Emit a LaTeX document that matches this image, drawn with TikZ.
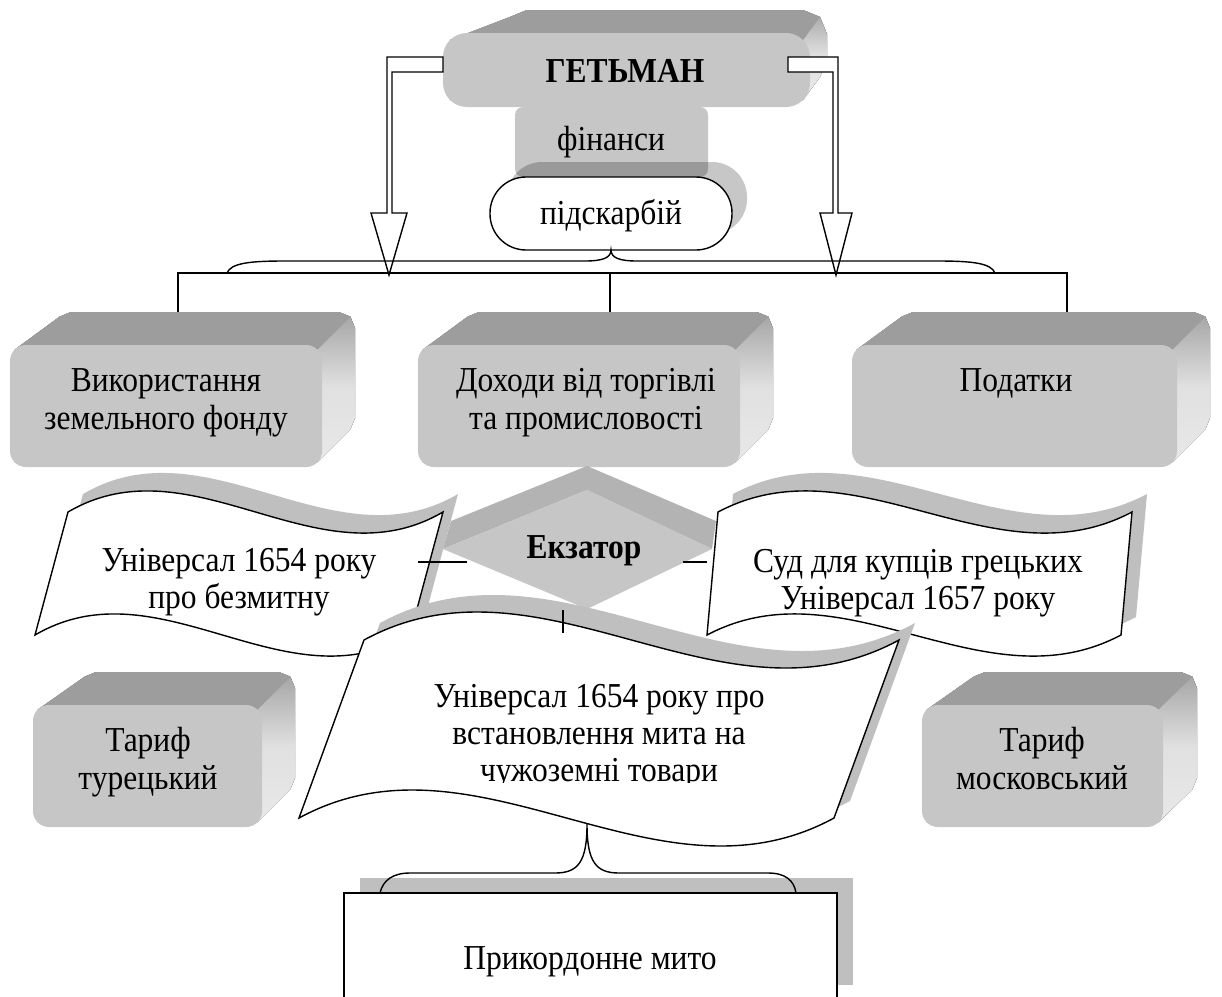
\documentclass[tikz,border=0pt]{standalone}
\usepackage{fontspec}
\setmainfont{Liberation Serif}[FakeStretch=0.9]
\definecolor{frontgray}{HTML}{C6C6C6}
\definecolor{topgray}{HTML}{9D9D9D}
\definecolor{shadowgray}{HTML}{BFBFBF}
\definecolor{bevelgray}{HTML}{B3B3B3}

\tikzset{
  lbl/.style={anchor=base, inner sep=0pt, font=\fontsize{35}{38}\selectfont},
  blbl/.style={lbl, font=\fontsize{35}{38}\selectfont\bfseries},
  outline/.style={draw=black, line width=1.4pt, line join=miter},
  wire/.style={draw=black, line width=1.4pt},
  plate/.style={rectangle, outer sep=0pt, inner sep=0pt},
}

% extruded rounded block: x1 y1 x2 y2 (front face), left depth, right depth, height of extrusion, corner radius
\newcommand{\slab}[8]{%
  \pgfmathsetmacro{\sa}{0.29*#8}%
  \fill[top color=black!36, bottom color=black!9, middle color=black!12]
    ({#1+\sa},{#2+\sa}) -- ({#1+#5+\sa},{#2-#7+\sa}) -- ({#1+#5+#8},{#2-#7})
    -- ({#3+#6-#8},{#2-#7}) -- ({#3+#6-\sa},{#2-#7+\sa}) -- ({#3+#6},{#2-#7+#8})
    -- ({#3+#6},{#4-#7-#8}) -- ({#3+#6-\sa},{#4-#7-\sa}) -- ({#3-\sa},{#4-\sa})
    -- ({#1+\sa},{#4-\sa}) -- cycle;
  \fill[topgray] ({#1+\sa},{#2+\sa}) -- ({#1+#5+\sa},{#2-#7+\sa}) -- ({#1+#5+#8},{#2-#7})
    -- ({#3+#6-#8},{#2-#7}) -- ({#3+#6-\sa},{#2-#7+\sa}) -- ({#3-\sa},{#2+\sa}) -- cycle;
  \fill[frontgray, rounded corners=#8pt] (#1,#2) rectangle (#3,#4);
}

% waving scroll: top-left x, top y, width, height, slant, wave control offset, path options
\newcommand{\scroll}[7]{%
  \path[#7] (#1,#2) .. controls ({#1+#3/3},{#2-#6}) and ({#1+2*#3/3},{#2+#6}) .. ({#1+#3},#2)
    -- ({#1+#3-#5},{#2+#4})
    .. controls ({#1-#5+2*#3/3},{#2+#4+#6}) and ({#1-#5+#3/3},{#2+#4-#6}) .. ({#1-#5},{#2+#4})
    -- cycle;
}

\begin{document}
\begin{tikzpicture}[x=1pt,y=-1pt]
\useasboundingbox[fill=white] (0,0) rectangle (1222,996);

% ---- top: hetman, finances, treasurer
\node[plate, fill=frontgray, rounded corners=8pt, minimum width=193pt, minimum height=70pt] (fin) at (611.5,142) {};
\slab{443}{33}{810}{107}{60}{17}{23}{24}
\coordinate (hetL) at (443,64.5);
\coordinate (hetR) at (810,64.5);
\node[blbl] (het) at (625,82) {ГЕТЬМАН};
\node[lbl] (finT) at (611,150) {фінанси};

\fill[black, opacity=0.22, rounded corners=35pt] (507,162) rectangle (747,234);
\node[plate, draw, line width=1.4pt, fill=white, rounded corners=36pt,
      minimum width=242pt, minimum height=73pt] (treas) at (611,213.5) {};
\node[lbl] (treasT) at (611,224) {підскарбій};

% hollow arrows from the hetman
\filldraw[fill=white, outline] (hetL |- 0,57) -- (387,57) -- (387,213) -- (371,213) -- (389,275)
  -- (407,213) -- (392,213) -- (392,72) -- (hetL |- 0,72) -- cycle;
\filldraw[fill=white, outline] (788,57) -- (838,57) -- (838,213) -- (852,213) -- (836,275)
  -- (820,213) -- (833,213) -- (833,72) -- (788,72) -- cycle;

% brace under the treasurer and the bus to the three branches
\coordinate (braceL) at (227,273);
\coordinate (braceR) at (995,273);
\coordinate (bus) at (610,273);
\coordinate (landTop) at (178,322);
\coordinate (tradeTop) at (610,322);
\coordinate (taxTop) at (1067,322);
\draw[wire] (braceL) .. controls (231,263) and (250,261) .. (285,261) -- (585,261)
  .. controls (602,261) and (611,258) .. (treas.south)
  .. controls (611,258) and (620,261) .. (637,261) -- (937,261)
  .. controls (972,261) and (991,263) .. (braceR);
\draw[wire] (landTop) -- (landTop |- bus) -- (taxTop |- bus) -- (taxTop);
\draw[wire] (bus) -- (tradeTop);

% ---- the three branches
\slab{10}{345}{322}{467}{45}{33}{33}{16}
\slab{418}{345}{740}{467}{45}{33}{33}{16}
\slab{852}{345}{1177}{467}{45}{33}{33}{16}
\node[lbl] (land1) at (166,391) {Використання};
\node[lbl] (land2) at (166,429) {земельного фонду};
\node[lbl] (trade1) at (586,391) {Доходи від торгівлі};
\node[lbl] (trade2) at (586,429) {та промисловості};
\node[lbl] (tax1) at (1016,391) {Податки};

% ---- exactor diamond
\fill[bevelgray] (443,549) -- (451,521) -- (587,466) -- (716,521) -- (712,549) -- (587,490) -- cycle;
\fill[frontgray] (443,549) -- (587,490) -- (712,549) -- (587,609) -- cycle;
\node[blbl] (exz) at (584,558) {Екзатор};

% ---- side scrolls
\scroll{68}{512}{375}{123}{33}{73}{fill=shadowgray, shift={(15,-18)}}
\scroll{68}{512}{375}{123}{33}{73}{fill=white, outline}
\node[lbl] (free1) at (239,571) {Універсал 1654 року};
\node[lbl] (free2) at (239,608) {про безмитну};

\scroll{718}{512}{414}{123}{11}{73}{fill=shadowgray, shift={(15,-18)}}
\scroll{718}{512}{414}{123}{11}{73}{fill=white, outline}
\node[lbl] (greek1) at (918,572) {Суд для купців грецьких};
\node[lbl] (greek2) at (918,609) {Універсал 1657 року};

\coordinate (tickA1) at (418,562);
\coordinate (tickA2) at (467,562);
\coordinate (tickB1) at (683,562);
\coordinate (tickB2) at (707,562);
\draw[wire] (tickA1) -- (tickA2);
\draw[wire] (tickB1) -- (tickB2);

% ---- main scroll
\scroll{364}{640}{535}{178}{65}{97}{fill=shadowgray, shift={(16,-17)}}
\scroll{364}{640}{535}{178}{65}{97}{fill=white, outline}
\coordinate (tickC1) at (563,610);
\coordinate (tickC2) at (563,633);
\draw[wire] (tickC1) -- (tickC2);
\begin{scope}
  \clip (300,650) rectangle (900,782);
  \node[lbl] (duty1) at (599,707) {Універсал 1654 року про};
  \node[lbl] (duty2) at (599,744) {встановлення мита на};
  \node[lbl] (duty3) at (599,781) {чужоземні товари};
\end{scope}

% ---- tariffs
\slab{33}{705}{262}{827}{47}{33}{33}{16}
\slab{922}{705}{1163}{827}{47}{34}{33}{16}
\node[lbl] (tur1) at (148,751) {Тариф};
\node[lbl] (tur2) at (148,789) {турецький};
\node[lbl] (mos1) at (1042,751) {Тариф};
\node[lbl] (mos2) at (1042,789) {московський};

% ---- border duty
\coordinate (tipB) at (587,824);
\coordinate (bL) at (380,893);
\coordinate (bR) at (796,893);
\fill[shadowgray] (360,878) rectangle (853,985);
\draw[wire] (bL) .. controls (383,880) and (393,873) .. (410,873) -- (555,873)
  .. controls (578,873) and (587,862) .. (tipB)
  .. controls (587,862) and (596,873) .. (619,873) -- (768,873)
  .. controls (785,873) and (794,880) .. (bR);
\node[plate, draw, line width=1.4pt, fill=white, minimum width=493pt, minimum height=130pt] (border) at (590.5,958) {};
\node[lbl] (borderT) at (590,969) {Прикордонне мито};
\end{tikzpicture}
\end{document}
